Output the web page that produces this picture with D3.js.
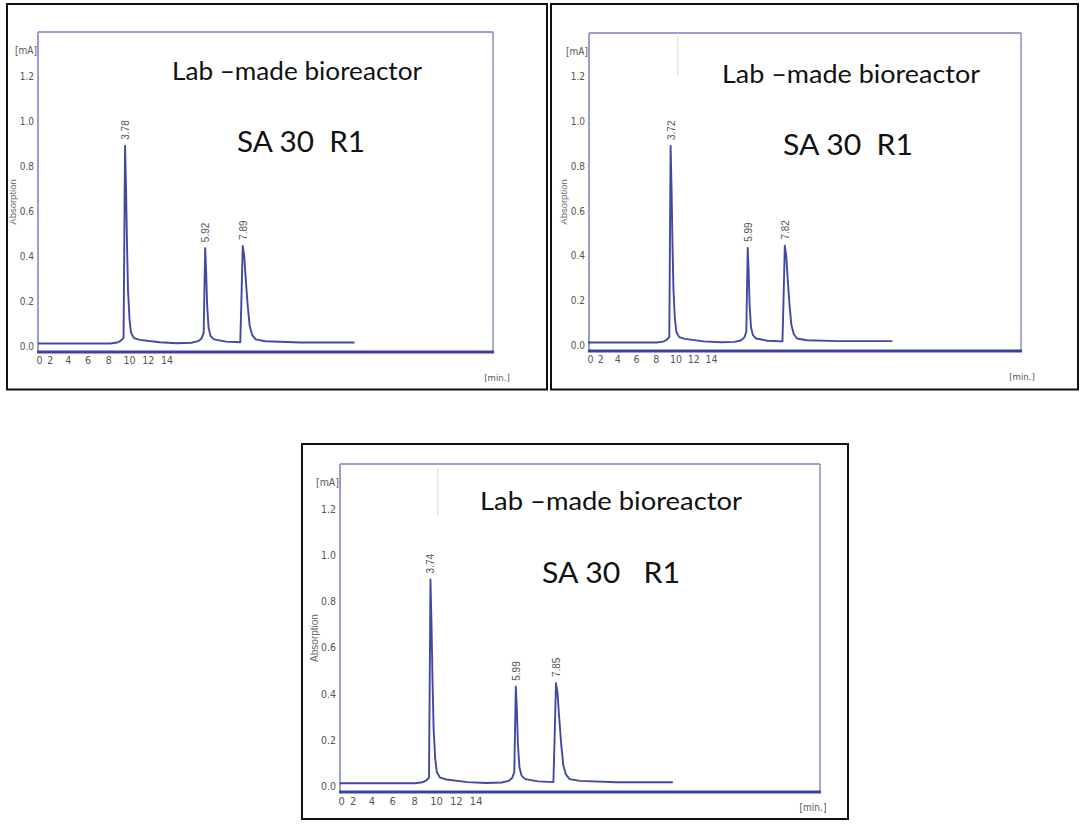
<!DOCTYPE html>
<html>
<head>
<meta charset="utf-8">
<script src="https://cdn.jsdelivr.net/npm/d3@7/dist/d3.min.js"></script>
<style>
  html, body { margin: 0; padding: 0; background: #fff; }
  svg { display: block; }
  .narrow { font-family: "Liberation Sans Narrow", "DejaVu Sans Condensed", "Roboto Condensed", sans-serif; }
</style>
</head>
<body>
<svg id="chart" width="1082" height="832"></svg>
<script>
// ---------------- DATA ----------------
const yTickValues = [0, 0.2, 0.4, 0.6, 0.8, 1.0, 1.2];
const yTickLabels = ["0.0", "0.2", "0.4", "0.6", "0.8", "1.0", "1.2"];
const xTickLabels = ["0", "2", "4", "6", "8", "10", "12", "14"];
const xTickPositions = [1.1, 2.2, 4, 6, 8.1, 10.2, 12.1, 14];

const titleLine1 = "Lab \u2013made bioreactor";
const titleLine2 = "SA 30  R1";
const titleLine2b = "SA 30   R1";

const peakLabels1 = ["3.78", "5.92", "7.89"];
const peakLabels2 = ["3.72", "5.99", "7.82"];
const peakLabels3 = ["3.74", "5.99", "7.85"];
const peakTimes1 = [9.8, 17.9, 21.7];
const peakTimes2 = [9.69, 17.9, 21.85];
const peakTimes3 = [9.67, 17.85, 21.7];

// chromatogram traces: [time (axis units), absorption mA]
const trace1 = [[1.0,0.012],[5,0.012],[8.3,0.012],[9.0,0.016],[9.3,0.022],[9.5,0.03],[9.65,0.036],[9.8,0.89],[9.9,0.70],[10.0,0.45],[10.1,0.25],[10.25,0.12],[10.4,0.06],[10.7,0.036],[11.3,0.028],[13.3,0.017],[15.0,0.013],[16.5,0.015],[17.2,0.022],[17.55,0.035],[17.75,0.06],[17.9,0.435],[18.0,0.33],[18.1,0.18],[18.25,0.08],[18.45,0.045],[18.8,0.03],[20.0,0.02],[21.45,0.017],[21.55,0.18],[21.7,0.445],[21.85,0.40],[22.0,0.30],[22.2,0.18],[22.4,0.09],[22.65,0.05],[23.0,0.03],[24.0,0.022],[27.5,0.016],[33.0,0.016]];
const trace2 = [[0.9,0.012],[5,0.012],[8.2,0.012],[8.9,0.016],[9.2,0.022],[9.4,0.03],[9.55,0.036],[9.69,0.89],[9.79,0.70],[9.89,0.45],[9.99,0.25],[10.14,0.12],[10.3,0.06],[10.6,0.036],[11.2,0.028],[13.2,0.017],[15.0,0.013],[16.5,0.015],[17.2,0.022],[17.55,0.035],[17.75,0.06],[17.9,0.435],[18.0,0.33],[18.1,0.18],[18.25,0.08],[18.45,0.045],[18.8,0.03],[20.0,0.02],[21.6,0.017],[21.7,0.18],[21.85,0.445],[22.0,0.40],[22.15,0.30],[22.35,0.18],[22.55,0.09],[22.8,0.05],[23.15,0.03],[24.2,0.022],[27.5,0.018],[33.3,0.018]];
const trace3 = [[1.0,0.012],[5,0.012],[8.2,0.012],[8.9,0.016],[9.2,0.022],[9.4,0.03],[9.53,0.036],[9.67,0.895],[9.77,0.70],[9.87,0.45],[9.97,0.25],[10.12,0.12],[10.28,0.06],[10.6,0.036],[11.2,0.028],[13.2,0.017],[15.0,0.013],[16.5,0.015],[17.15,0.022],[17.5,0.035],[17.7,0.06],[17.85,0.43],[17.95,0.33],[18.05,0.18],[18.2,0.08],[18.4,0.045],[18.75,0.03],[20.0,0.02],[21.45,0.017],[21.55,0.18],[21.7,0.446],[21.85,0.40],[22.0,0.30],[22.2,0.18],[22.4,0.09],[22.65,0.05],[23.0,0.03],[24.0,0.022],[27.5,0.016],[32.9,0.016]];

// ---------------- LAYOUT ----------------
const xDomain = [1, 47];
const yDomain = [-0.026, 1.395];

const panels = [
  { box: [7, 4, 547, 389.5], plot: [38, 32, 493, 352], trace: trace1, peaks: peakTimes1, labels: peakLabels1,
    t1: [172, 80, 250, 25], t2: [237, 152, 128, 29], line2: titleLine2, artifact: null, fs: 10, minPos: [497, 381] },
  { box: [551, 4, 1078, 389.5], plot: [589, 33, 1021, 351], trace: trace2, peaks: peakTimes2, labels: peakLabels2,
    t1: [722, 83, 258, 25], t2: [783, 155, 130, 29], line2: titleLine2, artifact: [678, 36, 75], fs: 10, minPos: [1022, 380] },
  { box: [302, 444, 848, 819], plot: [340, 464, 820, 792], trace: trace3, peaks: peakTimes3, labels: peakLabels3,
    t1: [480, 510, 262, 25], t2: [542, 583, 138, 29], line2: titleLine2b, artifact: [438, 468, 515], fs: 10.5, minPos: [813, 811] }
];

const svg = d3.select("#chart");
svg.append("rect").attr("width", 1082).attr("height", 832).attr("fill", "#fff");

const frameCol = "#9a9ed4";
const baseCol = "#3d42a0";
const traceCol = "#2f3499";
const tickCol = "#555";

panels.forEach(p => {
  const g = svg.append("g");
  const [bx0, by0, bx1, by1] = p.box;
  const [px0, py0, px1, py1] = p.plot;

  // outer black box
  g.append("rect").attr("x", bx0).attr("y", by0).attr("width", bx1 - bx0).attr("height", by1 - by0)
    .attr("fill", "none").attr("stroke", "#111").attr("stroke-width", 2);

  const x = d3.scaleLinear().domain(xDomain).range([px0, px1]);
  const y = d3.scaleLinear().domain(yDomain).range([py1, py0]);

  // plot frame
  g.append("line").attr("x1", px0).attr("x2", px1).attr("y1", py0).attr("y2", py0)
    .attr("stroke", frameCol).attr("stroke-width", 2);
  g.append("line").attr("x1", px0).attr("x2", px0).attr("y1", py0).attr("y2", py1)
    .attr("stroke", frameCol).attr("stroke-width", 2);
  g.append("line").attr("x1", px1).attr("x2", px1).attr("y1", py0).attr("y2", py1)
    .attr("stroke", "#8a8ec6").attr("stroke-width", 1.5);

  // artifact line
  if (p.artifact) {
    g.append("line").attr("x1", p.artifact[0]).attr("x2", p.artifact[0])
      .attr("y1", p.artifact[1]).attr("y2", p.artifact[2])
      .attr("stroke", "#d8d8d8").attr("stroke-width", 1);
  }

  // y axis tick labels
  const yAxis = d3.axisLeft(y).tickValues(yTickValues)
    .tickFormat((d, i) => yTickLabels[i]).tickSize(0).tickPadding(3);
  const ya = g.append("g").attr("transform", `translate(${px0 - 1},0)`).call(yAxis);
  ya.select(".domain").remove();
  ya.selectAll("text").attr("class", "narrow").attr("fill", tickCol)
    .style("font-size", p.fs + "px");

  // [mA]
  g.append("text").attr("class", "narrow").attr("x", px0 - 1).attr("y", py0 + 22)
    .attr("text-anchor", "end").attr("fill", tickCol).style("font-size", p.fs + "px").text("[mA]");

  // Absorption
  const ay = (py0 + py1) / 2 + 10;
  g.append("text").attr("transform", `translate(${px0 - 22},${ay}) rotate(-90)`)
    .attr("text-anchor", "middle").attr("fill", "#666")
    .style("font-family", "'Liberation Sans', Arial, sans-serif").style("font-size", (p.fs - 0.5) + "px")
    .text("Absorption");

  // x axis tick labels
  const xAxis = d3.axisBottom(x).tickValues(xTickPositions)
    .tickFormat((d, i) => xTickLabels[i]).tickSize(0).tickPadding(5);
  const xa = g.append("g").attr("transform", `translate(0,${py1})`).call(xAxis);
  xa.select(".domain").remove();
  xa.selectAll("text").attr("class", "narrow").attr("fill", tickCol)
    .style("font-size", (p.fs + 0.5) + "px");

  // [min.]
  g.append("text").attr("class", "narrow").attr("x", p.minPos[0]).attr("y", p.minPos[1])
    .attr("text-anchor", "middle").attr("fill", tickCol).style("font-size", (p.fs - 0.5) + "px").text("[min.]");

  // trace
  const line = d3.line().x(d => x(d[0])).y(d => y(d[1]));
  g.append("path").datum(p.trace).attr("d", line)
    .attr("fill", "none").attr("stroke", traceCol).attr("stroke-width", 1.9)
    .attr("stroke-linejoin", "round").attr("opacity", 0.9);

  // baseline (thick bottom line)
  g.append("line").attr("x1", px0 - 1).attr("x2", px1 + 1).attr("y1", py1).attr("y2", py1)
    .attr("stroke", baseCol).attr("stroke-width", 3.2);

  // peak labels
  p.peaks.forEach((t, i) => {
    const h = d3.max(p.trace.filter(d => Math.abs(d[0] - t) < 0.3), d => d[1]);
    g.append("text")
      .attr("transform", `translate(${x(t) + 4},${y(h) - 6}) rotate(-90)`)
      .attr("fill", "#555")
      .style("font-family", "'Liberation Sans', Arial, sans-serif").style("font-size", "10px")
      .text(p.labels[i]);
  });

  // titles
  g.append("text").attr("x", p.t1[0]).attr("y", p.t1[1])
    .attr("textLength", p.t1[2]).attr("lengthAdjust", "spacingAndGlyphs")
    .style("font-family", "Lato, 'Open Sans', sans-serif").style("font-size", p.t1[3] + "px")
    .attr("fill", "#111").text(titleLine1);
  g.append("text").attr("x", p.t2[0]).attr("y", p.t2[1])
    .attr("textLength", p.t2[2]).attr("lengthAdjust", "spacingAndGlyphs")
    .style("font-family", "Lato, 'Open Sans', sans-serif").style("font-size", p.t2[3] + "px")
    .style("white-space", "pre").attr("xml:space", "preserve")
    .attr("fill", "#111").text(p.line2);
});
</script>
</body>
</html>
